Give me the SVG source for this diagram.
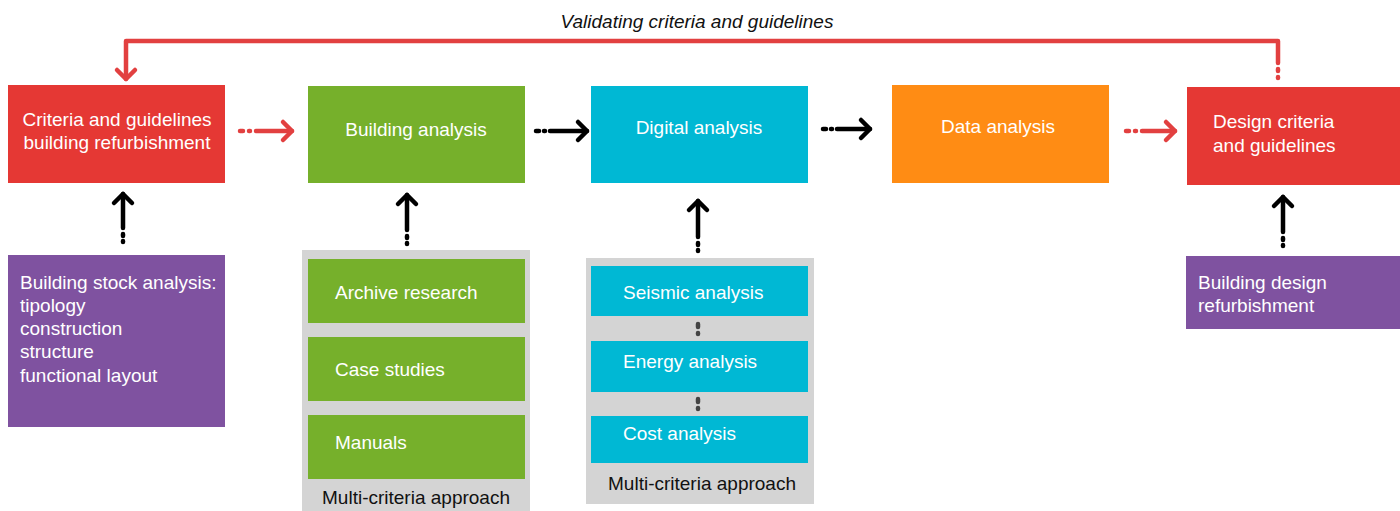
<svg xmlns="http://www.w3.org/2000/svg" width="1400" height="511" viewBox="0 0 1400 511">
<defs>
<style>
.t{font-family:"Liberation Sans",Arial,sans-serif;font-size:19px;fill:#fff}
.c{text-anchor:middle}
.k{fill:#111}
.red{fill:#E53834}.grn{fill:#76B02B}.cyn{fill:#00B8D4}.org{fill:#FF8C14}.pur{fill:#7F52A0}.gry{fill:#D4D4D4}
.ar{fill:none;stroke:#E24040;stroke-width:4.5;stroke-linecap:round;stroke-linejoin:round}
.ab{fill:none;stroke:#000;stroke-width:4.5;stroke-linecap:round;stroke-linejoin:round}
.dg{fill:none;stroke:#444;stroke-width:4.5;stroke-linecap:round}
</style>
</defs>
<rect width="1400" height="511" fill="#fff"/>
<text x="697" y="28" class="t c k" style="font-style:italic">Validating criteria and guidelines</text>

<g id="n-criteria">
  <rect class="red" x="8" y="85" width="217" height="98"/>
  <text class="t c" x="117" y="126">Criteria and guidelines</text>
  <text class="t c" x="117" y="149">building refurbishment</text>
</g>
<g id="n-building">
  <rect class="grn" x="308" y="86" width="217" height="97"/>
  <text class="t c" x="416" y="136">Building analysis</text>
</g>
<g id="n-digital">
  <rect class="cyn" x="591" y="86" width="217" height="97"/>
  <text class="t c" x="699" y="134">Digital analysis</text>
</g>
<g id="n-data">
  <rect class="org" x="892" y="85" width="217" height="98"/>
  <text class="t c" x="998" y="133">Data analysis</text>
</g>
<g id="n-design">
  <rect class="red" x="1187" y="87" width="213" height="98"/>
  <text class="t" x="1213" y="128">Design criteria</text>
  <text class="t" x="1213" y="152">and guidelines</text>
</g>
<g id="n-stock">
  <rect class="pur" x="8" y="255" width="217" height="172"/>
  <text class="t" x="20" y="289">Building stock analysis:</text>
  <text class="t" x="20" y="312">tipology</text>
  <text class="t" x="20" y="335">construction</text>
  <text class="t" x="20" y="358">structure</text>
  <text class="t" x="20" y="382">functional layout</text>
</g>
<g id="n-multi1">
  <rect class="gry" x="302" y="250" width="228" height="261"/>
  <rect class="grn" x="308" y="259" width="217" height="64"/>
  <text class="t" x="335" y="299">Archive research</text>
  <rect class="grn" x="308" y="337" width="217" height="64"/>
  <text class="t" x="335" y="376">Case studies</text>
  <rect class="grn" x="308" y="415" width="217" height="64"/>
  <text class="t" x="335" y="449">Manuals</text>
  <text class="t c k" x="416" y="504">Multi-criteria approach</text>
</g>
<g id="n-multi2">
  <rect class="gry" x="586" y="258" width="228" height="246"/>
  <rect class="cyn" x="591" y="266" width="217" height="50"/>
  <text class="t" x="623" y="299">Seismic analysis</text>
  <rect class="cyn" x="591" y="341" width="217" height="51"/>
  <text class="t" x="623" y="368">Energy analysis</text>
  <rect class="cyn" x="591" y="416" width="217" height="47"/>
  <text class="t" x="623" y="440">Cost analysis</text>
  <text class="t c k" x="702" y="490">Multi-criteria approach</text>
</g>
<g id="n-refurb">
  <rect class="pur" x="1186" y="256" width="214" height="73"/>
  <text class="t" x="1198" y="289">Building design</text>
  <text class="t" x="1198" y="312">refurbishment</text>
</g>

<g id="connectors">
  <!-- feedback loop -->
  <path class="ar" d="M1278,63 V41 H126 V79"/>
  <polyline class="ar" points="117,70 126,79 135,70"/>
  <path class="ar" d="M1278,69 V71 M1278,77 V78"/>
  <!-- horizontal arrows -->
  <g>
    <path class="ar" d="M240,131 H243 M249,131 H250 M256,131 H292"/>
    <polyline class="ar" points="283,122 292,131 283,140"/>
  </g>
  <g>
    <path class="ab" d="M536,131 H539 M544,131 H545 M550,131 H587"/>
    <polyline class="ab" points="578,122 587,131 578,140"/>
  </g>
  <g>
    <path class="ab" d="M823,129 H826 M831,129 H832 M837,129 H870"/>
    <polyline class="ab" points="861,120 870,129 861,138"/>
  </g>
  <g>
    <path class="ar" d="M1126,131 H1129 M1135,131 H1136 M1142,131 H1175"/>
    <polyline class="ar" points="1166,122 1175,131 1166,140"/>
  </g>
  <!-- vertical arrows -->
  <g>
    <path class="ab" d="M123,194 V228 M123,234 V236 M123,241 V242"/>
    <polyline class="ab" points="114,203 123,194 132,203"/>
  </g>
  <g>
    <path class="ab" d="M407,195 V230 M407,236 V238 M407,243 V244"/>
    <polyline class="ab" points="398,204 407,195 416,204"/>
  </g>
  <g>
    <path class="ab" d="M698,201 V237 M698,243 V245 M698,250 V251"/>
    <polyline class="ab" points="689,210 698,201 707,210"/>
  </g>
  <g>
    <path class="ab" d="M1283,197 V232 M1283,238 V240 M1283,245 V246"/>
    <polyline class="ab" points="1274,206 1283,197 1292,206"/>
  </g>
  <!-- sub connectors digital -->
  <path class="dg" d="M698,324 V327 M698,333 V334"/>
  <path class="dg" d="M698,399 V402 M698,408 V409"/>
</g>
</svg>
